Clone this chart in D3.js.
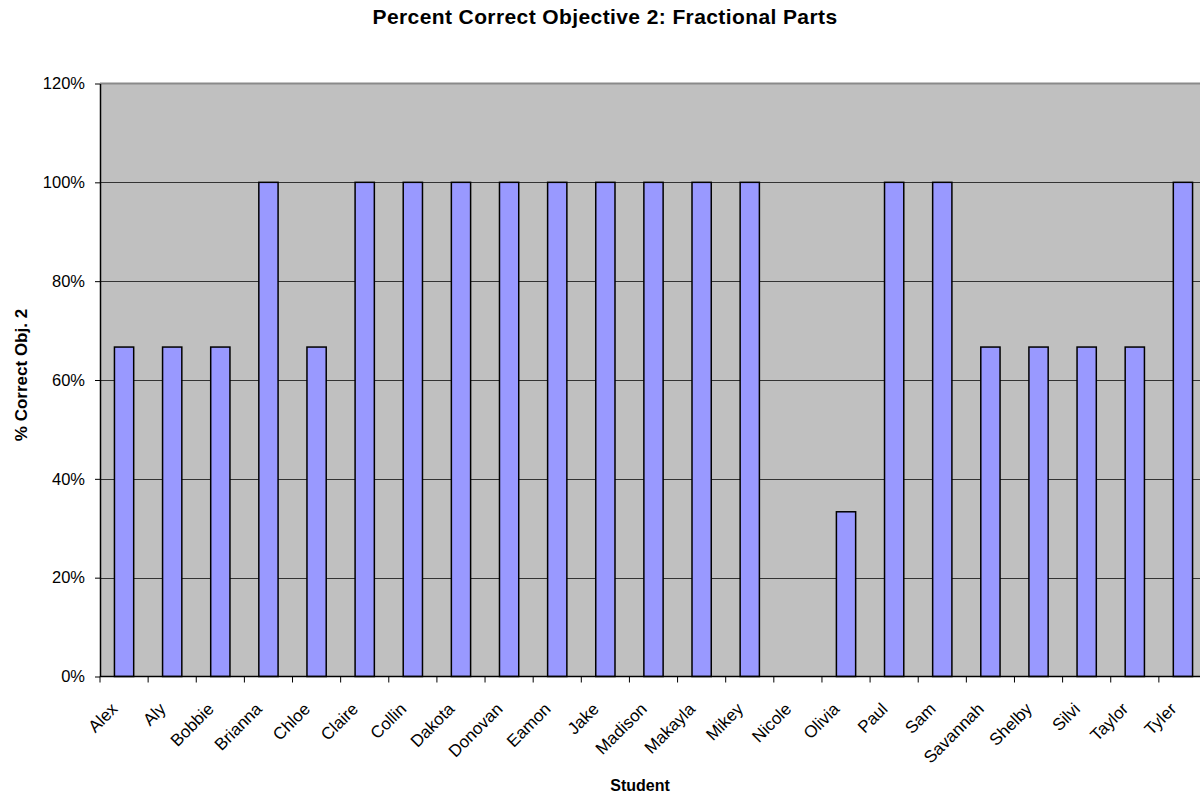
<!DOCTYPE html>
<html>
<head>
<meta charset="utf-8">
<script src="https://cdn.jsdelivr.net/npm/d3@7/dist/d3.min.js"></script>
<style>
  html, body { margin: 0; padding: 0; background: #fff; }
  svg { display: block; font-family: "Liberation Sans", Arial, sans-serif; }
</style>
</head>
<body>
<svg id="chart" width="1200" height="797"></svg>
<script>
// Students on the category axis
const students = ["Alex", "Aly", "Bobbie", "Brianna", "Chloe", "Claire", "Collin", "Dakota",
  "Donovan", "Eamon", "Jake", "Madison", "Makayla", "Mikey", "Nicole", "Olivia", "Paul",
  "Sam", "Savannah", "Shelby", "Silvi", "Taylor", "Tyler"];

// Fraction of objective 2 items answered correctly (out of 3)
const percentCorrect = [2/3, 2/3, 2/3, 1, 2/3, 1, 1, 1, 1, 1, 1, 1, 1, 1, 0, 1/3, 1, 1,
  2/3, 2/3, 2/3, 2/3, 1];

// Value axis ticks
const yTicks = [0, 0.2, 0.4, 0.6, 0.8, 1.0, 1.2];

const titleText = "Percent Correct Objective 2: Fractional Parts";
const xTitle = "Student";
const yTitle = "% Correct Obj. 2";

const svg = d3.select("#chart");
const plot = { left: 100, top: 83.5, right: 1207, bottom: 676.5 };

const x = d3.scaleBand()
  .domain(students)
  .range([plot.left, plot.right])
  .paddingInner(0.6)
  .paddingOuter(0.3);

const y = d3.scaleLinear()
  .domain([0, 1.2])
  .range([plot.bottom, plot.top]);

// Plot area background
svg.append("rect")
  .attr("x", plot.left).attr("y", plot.top)
  .attr("width", plot.right - plot.left).attr("height", plot.bottom - plot.top)
  .attr("fill", "#c0c0c0");

// Horizontal gridlines
svg.append("g")
  .selectAll("line")
  .data(yTicks.filter(d => d > 0 && d < 1.2))
  .join("line")
  .attr("x1", plot.left).attr("x2", plot.right)
  .attr("y1", d => Math.round(y(d)) + 0.5).attr("y2", d => Math.round(y(d)) + 0.5)
  .attr("stroke", "#333").attr("stroke-width", 1);

// Top border of the plot area
svg.append("line")
  .attr("x1", plot.left).attr("x2", plot.right)
  .attr("y1", plot.top).attr("y2", plot.top)
  .attr("stroke", "#8a8a8a").attr("stroke-width", 2);

// Bars
svg.append("g")
  .selectAll("rect")
  .data(students.map((s, i) => ({ s, v: percentCorrect[i] })).filter(d => d.v > 0))
  .join("rect")
  .attr("x", d => x(d.s))
  .attr("y", d => y(d.v))
  .attr("width", x.bandwidth())
  .attr("height", d => y(0) - y(d.v))
  .attr("fill", "#9999ff")
  .attr("stroke", "#000")
  .attr("stroke-width", 1.5);

// Y axis
const yAxis = d3.axisLeft(y)
  .tickValues(yTicks)
  .tickFormat(d3.format(".0%"))
  .tickSize(5)
  .tickSizeOuter(0)
  .tickPadding(10);

const gy = svg.append("g")
  .attr("transform", `translate(${plot.left},0)`)
  .call(yAxis);
gy.select(".domain").attr("stroke", "#000").attr("stroke-width", 1.5);
gy.selectAll(".tick line").attr("stroke", "#000");
gy.selectAll("text").attr("font-size", 16.5).attr("fill", "#000")
  .attr("font-family", "Liberation Sans, Arial, sans-serif");

// X axis: ticks sit on category boundaries
const boundaries = d3.range(students.length + 1).map(i => plot.left + i * (plot.right - plot.left) / students.length);
const gx = svg.append("g");
gx.append("line")
  .attr("x1", plot.left).attr("x2", plot.right)
  .attr("y1", plot.bottom).attr("y2", plot.bottom)
  .attr("stroke", "#000").attr("stroke-width", 1.5);
gx.selectAll("line.tk")
  .data(boundaries)
  .join("line")
  .attr("class", "tk")
  .attr("x1", d => d).attr("x2", d => d)
  .attr("y1", plot.bottom).attr("y2", plot.bottom + 6)
  .attr("stroke", "#000");

gx.selectAll("text")
  .data(students)
  .join("text")
  .attr("transform", d => `translate(${x(d) + x.bandwidth() / 2 - 14},${plot.bottom + 25}) rotate(-45)`)
  .attr("text-anchor", "end")
  .attr("dy", "0.71em")
  .attr("font-size", 17)
  .attr("fill", "#000")
  .text(d => d);

// Titles
svg.append("text")
  .attr("x", 605).attr("y", 24)
  .attr("text-anchor", "middle")
  .attr("font-size", 21).attr("font-weight", "bold")
  .attr("letter-spacing", 0.4)
  .text(titleText);

svg.append("text")
  .attr("x", 640).attr("y", 791)
  .attr("text-anchor", "middle")
  .attr("font-size", 16).attr("font-weight", "bold")
  .text(xTitle);

svg.append("text")
  .attr("transform", `translate(27,375) rotate(-90)`)
  .attr("text-anchor", "middle")
  .attr("font-size", 17).attr("font-weight", "bold")
  .text(yTitle);
</script>
</body>
</html>
